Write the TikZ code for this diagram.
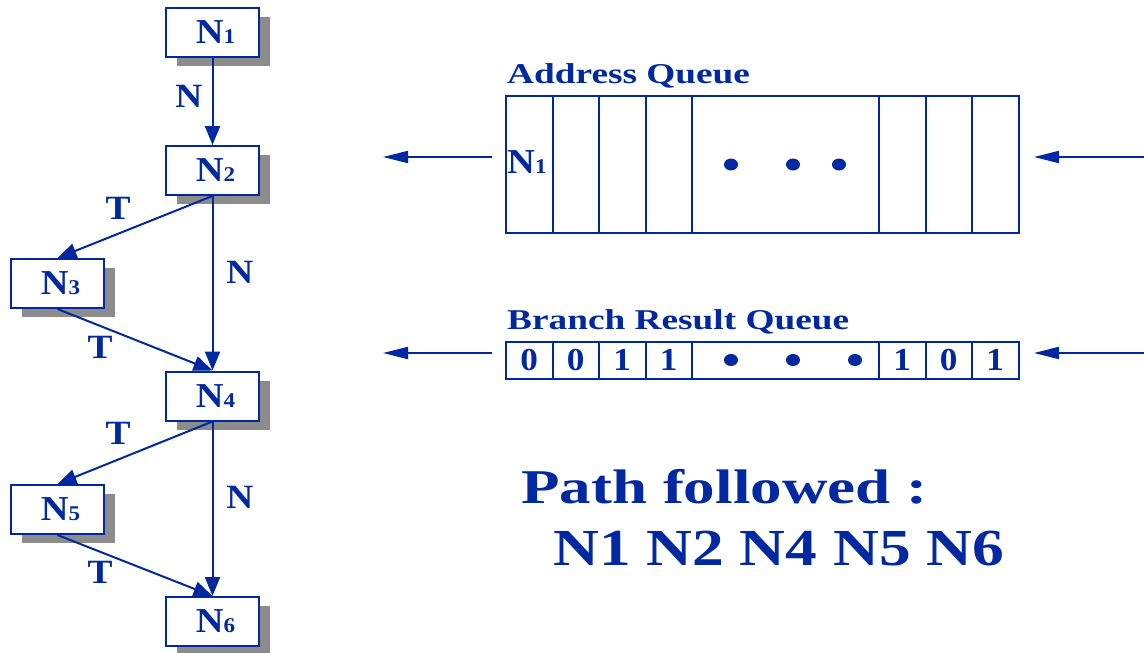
\documentclass[tikz,border=0pt]{standalone}
\usepackage{fontspec}
\setmainfont{Liberation Serif}
\newfontfamily\fA[FakeStretch=1.3]{Liberation Serif}
\newfontfamily\fB[FakeStretch=1.22]{Liberation Serif}
\newfontfamily\fC[FakeStretch=1.1]{Liberation Serif}
\usetikzlibrary{arrows.meta,shadows}
\definecolor{dblue}{RGB}{0,40,160}
\definecolor{shgray}{RGB}{140,140,140}
\newcommand\lowdig[1]{{\fontsize{21}{21}\selectfont #1}}
\begin{document}
\begin{tikzpicture}[x=1pt,y=-1pt,
  treenode/.style={draw=dblue, line width=2pt, fill=white, minimum width=93pt, minimum height=49pt,
    inner sep=0pt, text=dblue, font=\fC\bfseries\fontsize{35}{35}\selectfont,
    drop shadow={shadow xshift=11pt, shadow yshift=-9pt, fill=shgray, opacity=1}},
  arr/.style={draw=dblue, line width=2pt, -{Triangle[length=19pt,width=15pt]}},
  qarr/.style={draw=dblue, line width=2pt, -{Triangle[length=25pt,width=12pt]}},
  elabel/.style={inner sep=0pt, text=dblue, font=\fC\bfseries\fontsize{34}{34}\selectfont},
  aqcell/.style={draw=dblue, line width=2pt, inner sep=0pt, minimum height=137pt},
  bqcell/.style={draw=dblue, line width=2pt, inner sep=0pt, minimum height=37.3pt,
    text=dblue, font=\fC\bfseries\fontsize{32}{32}\selectfont},
  title/.style={anchor=base west, inner sep=0pt, text=dblue, font=\fA\bfseries\fontsize{28.7}{28.7}\selectfont}
]
\fill[white] (0,0) rectangle (1144,653);
\useasboundingbox (0,0) rectangle (1144,653);

% tree
\node[treenode] (n1) at (212.5,32.5) {\hspace{6pt}N\lowdig{1}};
\node[treenode] (n2) at (212.5,170.5) {\hspace{6pt}N\lowdig{2}};
\node[treenode] (n3) at (57.5,283.5) {\hspace{6pt}N\lowdig{3}};
\node[treenode] (n4) at (212.5,396) {\hspace{6pt}N\lowdig{4}};
\node[treenode] (n5) at (57.5,509.5) {\hspace{6pt}N\lowdig{5}};
\node[treenode] (n6) at (212.5,621.5) {\hspace{6pt}N\lowdig{6}};

\draw[arr] (n1) -- (n2);
\draw[arr] (n2.south) -- (n3.north);
\draw[arr] (n2) -- (n4);
\draw[arr] (n3.south) -- (n4.north);
\draw[arr] (n4.south) -- (n5.north);
\draw[arr] (n4) -- (n6);
\draw[arr] (n5.south) -- (n6.north);

\node[elabel] (l12) at (189,96) {N};
\node[elabel] (l23) at (118,208) {T};
\node[elabel] (l24) at (240,272) {N};
\node[elabel] (l34) at (100,347) {T};
\node[elabel] (l45) at (118,433) {T};
\node[elabel] (l46) at (240,497) {N};
\node[elabel] (l56) at (100,572) {T};

% address queue
\node[title] (aqt) at (507,83) {Address Queue};
\node[aqcell, minimum width=46.5pt] (a1) at (529.25,164.5) {};
\node[aqcell, minimum width=46.5pt] (a2) at (575.75,164.5) {};
\node[aqcell, minimum width=46.5pt] (a3) at (622.25,164.5) {};
\node[aqcell, minimum width=46.5pt] (a4) at (668.75,164.5) {};
\node[aqcell, minimum width=187pt] (a5) at (785.5,164.5) {};
\node[aqcell, minimum width=46.5pt] (a6) at (902.25,164.5) {};
\node[aqcell, minimum width=46.5pt] (a7) at (948.75,164.5) {};
\node[aqcell, minimum width=46.5pt] (a8) at (995.25,164.5) {};
\node[anchor=base west, inner sep=0pt, text=dblue, font=\fC\bfseries\fontsize{35}{35}\selectfont] (aqn1) at (507,173) {N\lowdig{1}};
\fill[dblue] (731,164.5) ellipse [x radius=7pt, y radius=6pt];
\fill[dblue] (793,164.5) ellipse [x radius=7pt, y radius=6pt];
\fill[dblue] (839,164.5) ellipse [x radius=7pt, y radius=6pt];

\coordinate (aqLs) at (492,157);
\coordinate (aqLe) at (383,157);
\coordinate (aqRs) at (1146,157);
\coordinate (aqRe) at (1034,157);
\draw[qarr] (aqLs) -- (aqLe);
\draw[qarr] (aqRs) -- (aqRe);

% branch result queue
\node[title] (brt) at (507,329) {Branch Result Queue};
\node[bqcell, minimum width=46.5pt] (b1) at (529.25,360.3) {0};
\node[bqcell, minimum width=46.5pt] (b2) at (575.75,360.3) {0};
\node[bqcell, minimum width=46.5pt] (b3) at (622.25,360.3) {1};
\node[bqcell, minimum width=46.5pt] (b4) at (668.75,360.3) {1};
\node[bqcell, minimum width=187pt] (b5) at (785.5,360.3) {};
\node[bqcell, minimum width=46.5pt] (b6) at (902.25,360.3) {1};
\node[bqcell, minimum width=46.5pt] (b7) at (948.75,360.3) {0};
\node[bqcell, minimum width=46.5pt] (b8) at (995.25,360.3) {1};
\fill[dblue] (731,360) ellipse [x radius=7pt, y radius=6pt];
\fill[dblue] (793,360) ellipse [x radius=7pt, y radius=6pt];
\fill[dblue] (855,360) ellipse [x radius=7pt, y radius=6pt];

\coordinate (bqLs) at (492,353);
\coordinate (bqLe) at (383,353);
\coordinate (bqRs) at (1146,353);
\coordinate (bqRe) at (1034,353);
\draw[qarr] (bqLs) -- (bqLe);
\draw[qarr] (bqRs) -- (bqRe);

% path followed
\node[anchor=base west, inner sep=0pt, text=dblue, font=\fA\bfseries\fontsize{48.5}{48.5}\selectfont] (pf) at (521,503) {Path followed :};
\node[anchor=base west, inner sep=0pt, text=dblue, font=\fB\bfseries\fontsize{52}{52}\selectfont] (pth) at (553,565) {N1 N2 N4 N5 N6};
\end{tikzpicture}
\end{document}
